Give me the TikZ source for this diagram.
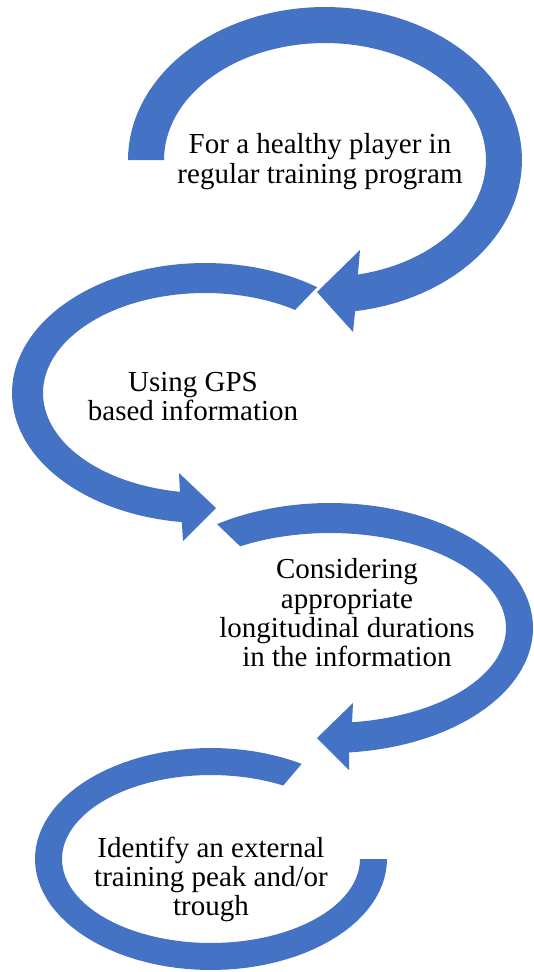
\documentclass[tikz,border=0pt]{standalone}
\usepackage{fontspec}
\setmainfont{Liberation Serif}
\definecolor{arrowblue}{RGB}{68,114,196}
\tikzset{
  band/.style={fill=arrowblue, draw=none},
  label/.style={font=\fontsize{29}{29.3}\selectfont, align=center, inner sep=0pt, text=black}
}
\begin{document}
\begin{tikzpicture}[x=1pt, y=-1pt]
\useasboundingbox (0,0) rectangle (533,972);
% shape 1
\fill[band] plot[domain=180:441.2, samples=90, variable=\t] ({325+197*cos(\t)},{160+153*sin(\t)})
  -- (353,332) -- (317,292) -- (360,250)
  -- plot[domain=438.2:180, samples=90, variable=\t] ({325+161*cos(\t)},{160+117*sin(\t)}) -- cycle;
% shape 2
\fill[band] plot[domain=305.5:96.9, samples=90, variable=\t] ({205+193*cos(\t)},{393+130*sin(\t)})
  -- (183,541) -- (216,508) -- (179,473)
  -- plot[domain=98.9:303.8, samples=90, variable=\t] ({205+162*cos(\t)},{393+100*sin(\t)}) -- cycle;
% shape 3
\fill[band] plot[domain=236.2:444.6, samples=90, variable=\t] ({330+203*cos(\t)},{628+125*sin(\t)})
  -- (349,770) -- (317,738) -- (353,703)
  -- plot[domain=442.8:239.3, samples=90, variable=\t] ({330+176*cos(\t)},{628+95*sin(\t)}) -- cycle;
% shape 4
\fill[band] plot[domain=301:0, samples=90, variable=\t] ({211+176*cos(\t)},{859+111*sin(\t)})
  -- plot[domain=0:299, samples=90, variable=\t] ({211+149*cos(\t)},{859+84*sin(\t)}) -- cycle;
% texts
\node[label] (t1) at (320,161.7) {For a healthy player in\\regular training program};
\node[label] (t2) at (193,396.5) {Using GPS\\based information};
\node[label] (t3) at (347,613) {Considering\\appropriate\\longitudinal durations\\in the information};
\node[label] (t4) at (211,879.5) {Identify an external\\training peak and/or\\trough};
\end{tikzpicture}
\end{document}
